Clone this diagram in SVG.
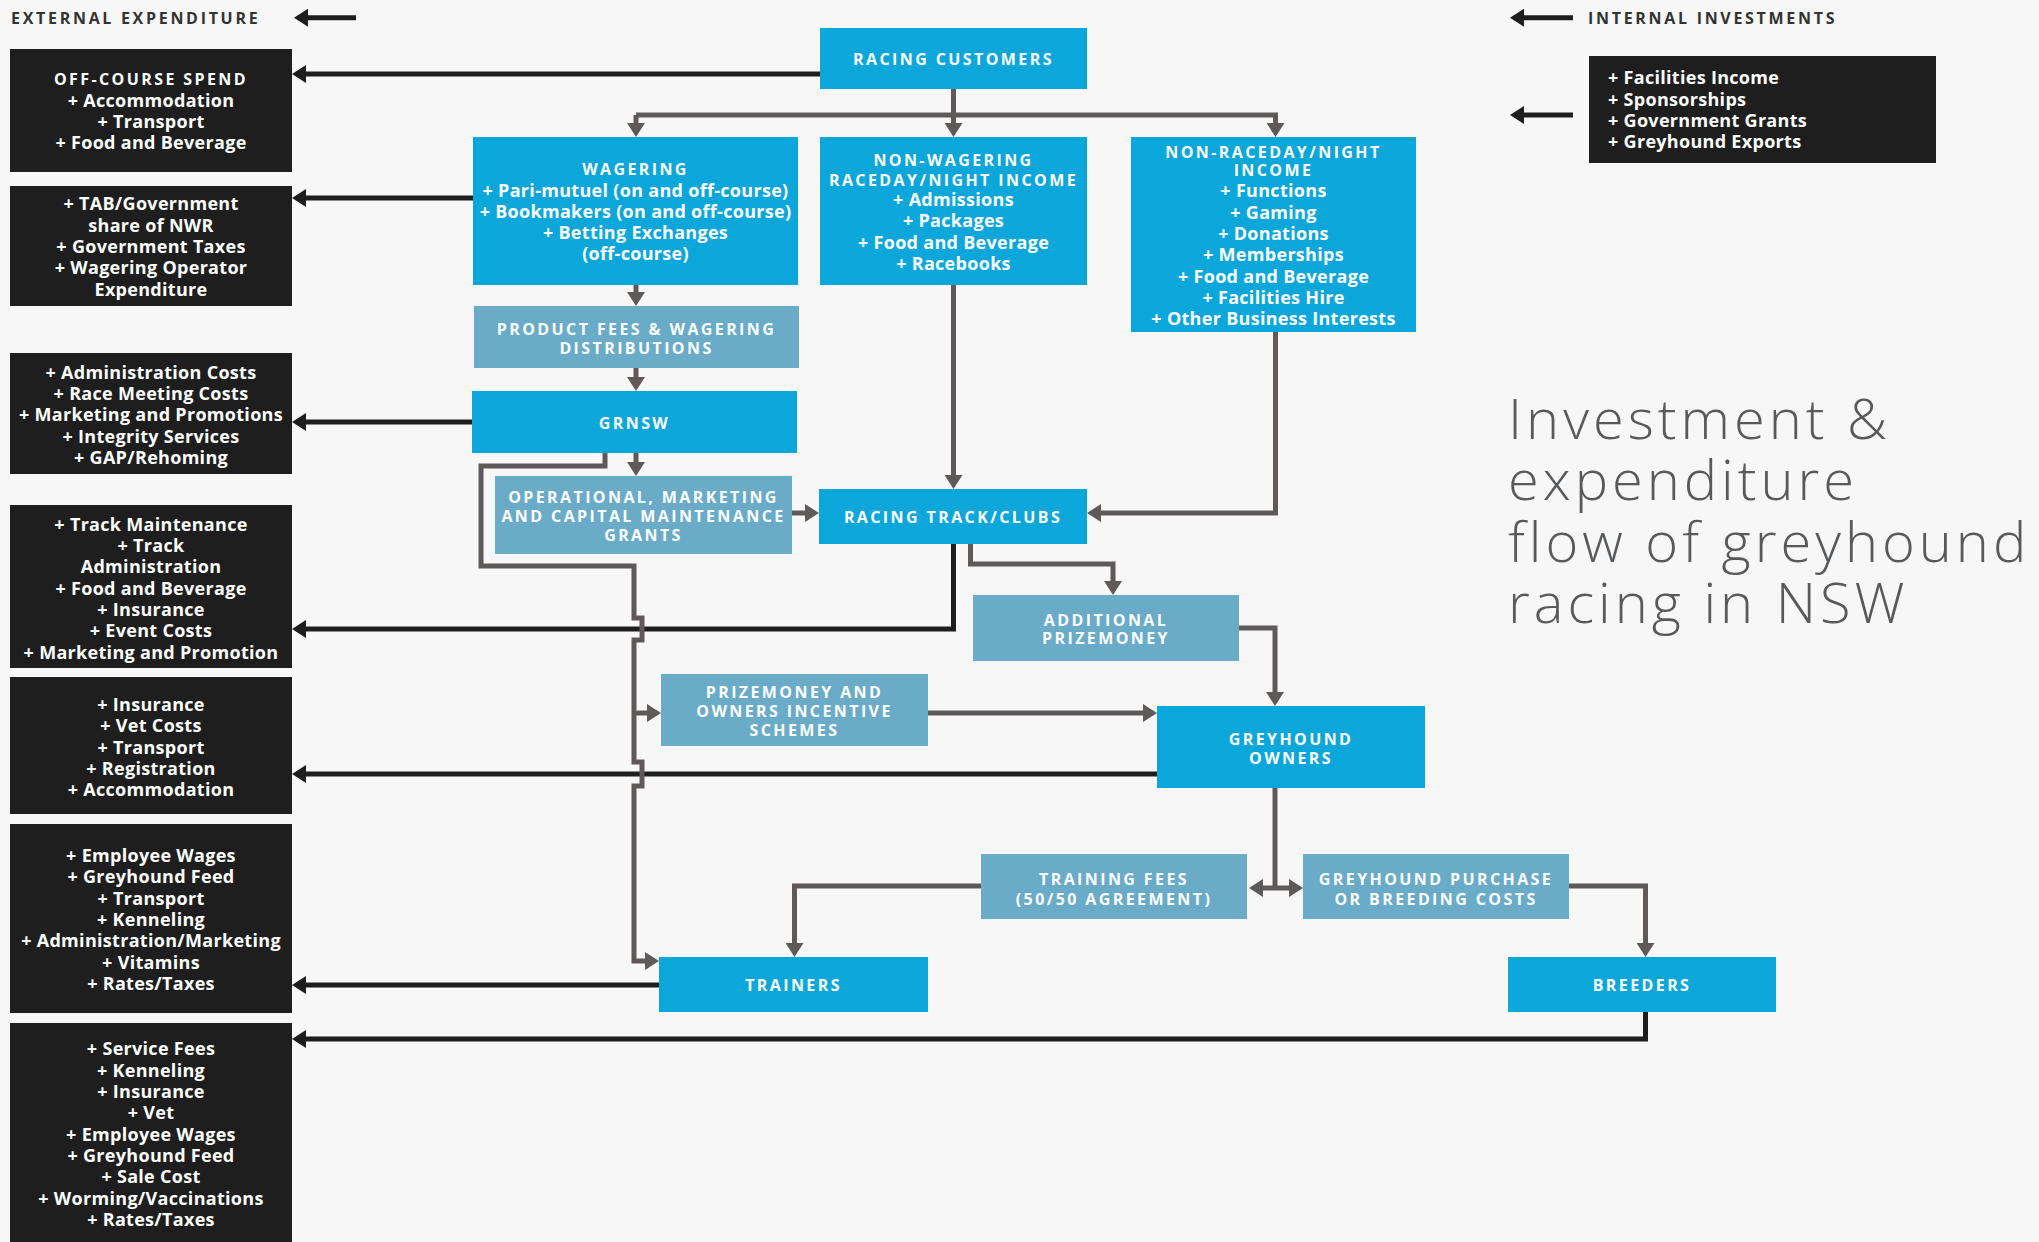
<svg xmlns="http://www.w3.org/2000/svg" width="2039" height="1242" viewBox="0 0 2039 1242">
<style>
.blue{fill:#0ba6da}
.steel{fill:#6aabc8}
.dark{fill:#1e1e1e}
.h{font-family:"Open Sans","Liberation Sans",sans-serif;font-weight:700;font-size:16px;letter-spacing:2.4px;fill:#fff;text-anchor:middle}
.b{font-family:"Open Sans","Liberation Sans",sans-serif;font-weight:700;font-size:18px;letter-spacing:0.3px;fill:#fff;text-anchor:middle}
.bl{font-family:"Open Sans","Liberation Sans",sans-serif;font-weight:700;font-size:18px;letter-spacing:0.3px;fill:#fff}
.lab{font-family:"Open Sans","Liberation Sans",sans-serif;font-weight:700;font-size:16px;letter-spacing:2.7px;fill:#333}
.title{font-family:"Open Sans","Liberation Sans",sans-serif;font-weight:300;font-size:56px;letter-spacing:4px;fill:#58595b}
.cg{fill:none;stroke:#5e5a5a;stroke-width:5;marker-end:url(#ag)}
.cgn{fill:none;stroke:#5e5a5a;stroke-width:5}
.ck{fill:none;stroke:#1e1e1e;stroke-width:5;marker-end:url(#ak)}
</style>
<defs>
<marker id="ag" markerUnits="userSpaceOnUse" markerWidth="14" markerHeight="18" viewBox="0 0 14 18" refX="10" refY="9" orient="auto-start-reverse"><path d="M0,0 L14,9 L0,18 Z" fill="#5e5a5a"/></marker>
<marker id="ak" markerUnits="userSpaceOnUse" markerWidth="14" markerHeight="18" viewBox="0 0 14 18" refX="10" refY="9" orient="auto"><path d="M0,0 L14,9 L0,18 Z" fill="#1e1e1e"/></marker>
</defs>
<rect x="0" y="0" width="2039" height="1242" fill="#f7f7f7"/>

<g id="legend">
<text class="lab" x="11" y="24">EXTERNAL EXPENDITURE</text>
<text class="lab" x="1588" y="24">INTERNAL INVESTMENTS</text>
<path class="ck" d="M356,17.7 H298"/>
<path class="ck" d="M1573,17.7 H1514"/>
<path class="ck" d="M1573,115 H1514"/>
</g>

<g id="title">
<text class="title" x="1508" y="439">Investment &amp;</text>
<text class="title" x="1508" y="500">expenditure</text>
<text class="title" x="1508" y="562">flow of greyhound</text>
<text class="title" x="1508" y="623">racing in NSW</text>
</g>

<g id="connectors">
<path class="ck" d="M820,74 H296"/>
<path class="ck" d="M473,198 H296"/>
<path class="ck" d="M472,422 H296"/>
<path class="ck" d="M953.5,544 V629 H296"/>
<path class="ck" d="M1157,774 H296"/>
<path class="ck" d="M659,985 H296"/>
<path class="ck" d="M1645.5,1012 V1039 H296"/>

<path class="cg" d="M953.5,89 V133"/>
<path class="cg" d="M636,115 V133"/>
<path class="cg" d="M636,115 H1275.5 V133"/>
<path class="cg" d="M636,285 V302"/>
<path class="cg" d="M636,368 V387"/>
<path class="cg" d="M636,453 V472"/>
<path class="cg" d="M605,453 V466 H481 V566 H634 V618 H642 V640 H634 V762 H642 V786 H634 V961 H655"/>
<path class="cg" d="M634,713 H657"/>
<path class="cg" d="M792,513 H815"/>
<path class="cg" d="M953.5,285 V485"/>
<path class="cg" d="M1275.5,332 V513 H1091"/>
<path class="cg" d="M970.5,544 V564 H1113 V591"/>
<path class="cg" d="M1239,628 H1275 V702"/>
<path class="cg" d="M928,713 H1153"/>
<path class="cgn" d="M1275,788 V888"/>
<path class="cg" d="M1253,888 H1299" marker-start="url(#ag)"/>
<path class="cg" d="M981,886 H794.5 V953"/>
<path class="cg" d="M1569,886 H1645.5 V953"/>
</g>

<g id="offcourse">
<rect class="dark" x="10" y="49" width="282" height="123"/>
<text class="h" x="151" y="85">OFF-COURSE SPEND</text>
<text class="b" x="151" y="107">+ Accommodation</text>
<text class="b" x="151" y="128">+ Transport</text>
<text class="b" x="151" y="149">+ Food and Beverage</text>
</g>

<g id="tab">
<rect class="dark" x="10" y="186" width="282" height="120"/>
<text class="b" x="151" y="209.5">+ TAB/Government</text>
<text class="b" x="151" y="231.5">share of NWR</text>
<text class="b" x="151" y="252.5">+ Government Taxes</text>
<text class="b" x="151" y="274">+ Wagering Operator</text>
<text class="b" x="151" y="295.5">Expenditure</text>
</g>

<g id="admin">
<rect class="dark" x="10" y="353" width="282" height="121"/>
<text class="b" x="151" y="378.5">+ Administration Costs</text>
<text class="b" x="151" y="399.5">+ Race Meeting Costs</text>
<text class="b" x="151" y="421">+ Marketing and Promotions</text>
<text class="b" x="151" y="442.5">+ Integrity Services</text>
<text class="b" x="151" y="464">+ GAP/Rehoming</text>
</g>

<g id="track">
<rect class="dark" x="10" y="505" width="282" height="163"/>
<text class="b" x="151" y="530.5">+ Track Maintenance</text>
<text class="b" x="151" y="552">+ Track</text>
<text class="b" x="151" y="573">Administration</text>
<text class="b" x="151" y="594.5">+ Food and Beverage</text>
<text class="b" x="151" y="615.5">+ Insurance</text>
<text class="b" x="151" y="637">+ Event Costs</text>
<text class="b" x="151" y="658.5">+ Marketing and Promotion</text>
</g>

<g id="owners-exp">
<rect class="dark" x="10" y="677" width="282" height="137"/>
<text class="b" x="151" y="710.5">+ Insurance</text>
<text class="b" x="151" y="732">+ Vet Costs</text>
<text class="b" x="151" y="753.5">+ Transport</text>
<text class="b" x="151" y="775">+ Registration</text>
<text class="b" x="151" y="796">+ Accommodation</text>
</g>

<g id="trainers-exp">
<rect class="dark" x="10" y="824" width="282" height="189"/>
<text class="b" x="151" y="862">+ Employee Wages</text>
<text class="b" x="151" y="883">+ Greyhound Feed</text>
<text class="b" x="151" y="905">+ Transport</text>
<text class="b" x="151" y="926">+ Kenneling</text>
<text class="b" x="151" y="947">+ Administration/Marketing</text>
<text class="b" x="151" y="969">+ Vitamins</text>
<text class="b" x="151" y="990">+ Rates/Taxes</text>
</g>

<g id="breeders-exp">
<rect class="dark" x="10" y="1023" width="282" height="230"/>
<text class="b" x="151" y="1055">+ Service Fees</text>
<text class="b" x="151" y="1077">+ Kenneling</text>
<text class="b" x="151" y="1098">+ Insurance</text>
<text class="b" x="151" y="1119">+ Vet</text>
<text class="b" x="151" y="1141">+ Employee Wages</text>
<text class="b" x="151" y="1162">+ Greyhound Feed</text>
<text class="b" x="151" y="1183">+ Sale Cost</text>
<text class="b" x="151" y="1204.5">+ Worming/Vaccinations</text>
<text class="b" x="151" y="1226">+ Rates/Taxes</text>
</g>

<g id="internal">
<rect class="dark" x="1589" y="56" width="347" height="107"/>
<text class="bl" x="1608" y="83.5">+ Facilities Income</text>
<text class="bl" x="1608" y="105.5">+ Sponsorships</text>
<text class="bl" x="1608" y="127">+ Government Grants</text>
<text class="bl" x="1608" y="148">+ Greyhound Exports</text>
</g>

<g id="racing-customers">
<rect class="blue" x="820" y="28" width="267" height="61"/>
<text class="h" x="953.5" y="65">RACING CUSTOMERS</text>
</g>

<g id="wagering">
<rect class="blue" x="473" y="137" width="325" height="148"/>
<text class="h" x="635.5" y="175">WAGERING</text>
<text class="b" x="635.5" y="196.5">+ Pari-mutuel (on and off-course)</text>
<text class="b" x="635.5" y="217.5">+ Bookmakers (on and off-course)</text>
<text class="b" x="635.5" y="238.5">+ Betting Exchanges</text>
<text class="b" x="635.5" y="260">(off-course)</text>
</g>

<g id="non-wagering">
<rect class="blue" x="820" y="137" width="267" height="148"/>
<text class="h" x="953.5" y="166">NON-WAGERING</text>
<text class="h" x="953.5" y="185.5">RACEDAY/NIGHT INCOME</text>
<text class="b" x="953.5" y="206">+ Admissions</text>
<text class="b" x="953.5" y="227">+ Packages</text>
<text class="b" x="953.5" y="249">+ Food and Beverage</text>
<text class="b" x="953.5" y="269.5">+ Racebooks</text>
</g>

<g id="non-raceday">
<rect class="blue" x="1131" y="137" width="285" height="195"/>
<text class="h" x="1273.5" y="157.5">NON-RACEDAY/NIGHT</text>
<text class="h" x="1273.5" y="176">INCOME</text>
<text class="b" x="1273.5" y="197">+ Functions</text>
<text class="b" x="1273.5" y="219">+ Gaming</text>
<text class="b" x="1273.5" y="239.5">+ Donations</text>
<text class="b" x="1273.5" y="261">+ Memberships</text>
<text class="b" x="1273.5" y="283">+ Food and Beverage</text>
<text class="b" x="1273.5" y="304">+ Facilities Hire</text>
<text class="b" x="1273.5" y="325">+ Other Business Interests</text>
</g>

<g id="product-fees">
<rect class="steel" x="474" y="306" width="325" height="62"/>
<text class="h" x="636.5" y="335">PRODUCT FEES &amp; WAGERING</text>
<text class="h" x="636.5" y="354">DISTRIBUTIONS</text>
</g>

<g id="grnsw">
<rect class="blue" x="472" y="391" width="325" height="62"/>
<text class="h" x="634.5" y="429">GRNSW</text>
</g>

<g id="grants">
<rect class="steel" x="495" y="476" width="297" height="78"/>
<text class="h" x="643.5" y="502.5">OPERATIONAL, MARKETING</text>
<text class="h" x="643.5" y="522">AND CAPITAL MAINTENANCE</text>
<text class="h" x="643.5" y="541">GRANTS</text>
</g>

<g id="racing-track">
<rect class="blue" x="819" y="489" width="268" height="55"/>
<text class="h" x="953" y="522.5">RACING TRACK/CLUBS</text>
</g>

<g id="additional-prizemoney">
<rect class="steel" x="973" y="595" width="266" height="66"/>
<text class="h" x="1106" y="626">ADDITIONAL</text>
<text class="h" x="1106" y="644">PRIZEMONEY</text>
</g>

<g id="prizemoney-schemes">
<rect class="steel" x="661" y="674" width="267" height="72"/>
<text class="h" x="794.5" y="698">PRIZEMONEY AND</text>
<text class="h" x="794.5" y="717">OWNERS INCENTIVE</text>
<text class="h" x="794.5" y="736">SCHEMES</text>
</g>

<g id="greyhound-owners">
<rect class="blue" x="1157" y="706" width="268" height="82"/>
<text class="h" x="1291" y="745">GREYHOUND</text>
<text class="h" x="1291" y="764">OWNERS</text>
</g>

<g id="training-fees">
<rect class="steel" x="981" y="854" width="266" height="65"/>
<text class="h" x="1114" y="885">TRAINING FEES</text>
<text class="h" x="1114" y="904.5">(50/50 AGREEMENT)</text>
</g>

<g id="purchase">
<rect class="steel" x="1303" y="854" width="266" height="65"/>
<text class="h" x="1436" y="885">GREYHOUND PURCHASE</text>
<text class="h" x="1436" y="904.5">OR BREEDING COSTS</text>
</g>

<g id="trainers">
<rect class="blue" x="659" y="957" width="269" height="55"/>
<text class="h" x="793.5" y="991">TRAINERS</text>
</g>

<g id="breeders">
<rect class="blue" x="1508" y="957" width="268" height="55"/>
<text class="h" x="1642" y="991">BREEDERS</text>
</g>
</svg>
